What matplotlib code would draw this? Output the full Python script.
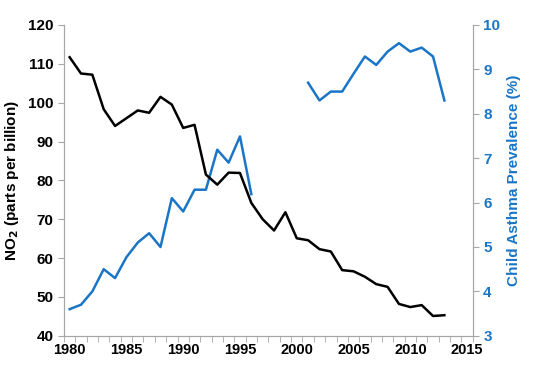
import numpy as np
import matplotlib
matplotlib.use('Agg')
import matplotlib.pyplot as plt

plt.rcParams['font.family'] = ['Liberation Sans', 'DejaVu Sans']
plt.rcParams['font.weight'] = 'bold'

# NO2 (left axis), 1980-2013
no2_years = list(range(1980, 2014))
no2 = [111.7, 107.5, 107.2, 98.3, 94.0, 96.0, 98.0, 97.4, 101.5, 99.5,
       93.5, 94.3, 81.5, 78.9, 82.0, 81.9, 74.2, 70.0, 67.1, 71.8,
       65.1, 64.6, 62.3, 61.7, 56.9, 56.6, 55.2, 53.3, 52.6, 48.2,
       47.4, 47.9, 45.1, 45.3]

# child asthma prevalence (right axis), gap 1997-2000
asthma_years = list(range(1980, 2014))
asthma = [3.60, 3.70, 4.00, 4.50, 4.30, 4.77, 5.10, 5.31, 5.00, 6.10,
          5.80, 6.29, 6.29, 7.19, 6.90, 7.49, 6.19, None, None, None,
          None, 8.70, 8.30, 8.50, 8.50, 8.90, 9.29, 9.10, 9.40, 9.59,
          9.40, 9.49, 9.29, 8.30]

x_ticks = [1980, 1985, 1990, 1995, 2000, 2005, 2010, 2015]

blue = '#1b75c6'
grey = '#a6a6a6'

fig = plt.figure(figsize=(5.33, 3.67), dpi=100)
ax = fig.add_axes([0.12, 0.085, 0.767, 0.847])
ax2 = ax.twinx()

ax.plot(no2_years, no2, color='black', lw=1.8, zorder=3)
a = np.array([np.nan if v is None else v for v in asthma])
ax2.plot(asthma_years, a, color=blue, lw=1.8)
ax.set_zorder(ax2.get_zorder() + 1)
ax.patch.set_visible(False)

ax.set_xlim(1979.5, 2015.5)
ax.set_ylim(40, 120)
ax2.set_ylim(3, 10)
ax.set_xticks(x_ticks)
ax.set_xticks(np.arange(1979.5, 2016, 1), minor=True)
ax.set_yticks(range(40, 121, 10))
ax2.set_yticks(range(3, 11))

ax.tick_params(axis='x', which='major', length=0, labelsize=10.5, pad=5)
ax.tick_params(axis='x', which='minor', length=4, color=grey, direction='out')
ax.tick_params(axis='y', length=4, color=grey, labelsize=11)
ax2.tick_params(axis='y', length=4, color=grey, labelsize=11, labelcolor=blue)

for s in ['top']:
    ax.spines[s].set_visible(False)
    ax2.spines[s].set_visible(False)
for s in ['left', 'right', 'bottom']:
    ax.spines[s].set_color(grey)
    ax2.spines[s].set_color(grey)

ax.set_ylabel('NO$_\\mathbf{2}$ (parts per billion)', fontsize=11, fontweight='bold', labelpad=5)
ax2.set_ylabel('Child Asthma Prevalence (%)', fontsize=11, fontweight='bold', color=blue, labelpad=5)

fig.savefig('out.png', dpi=100)
